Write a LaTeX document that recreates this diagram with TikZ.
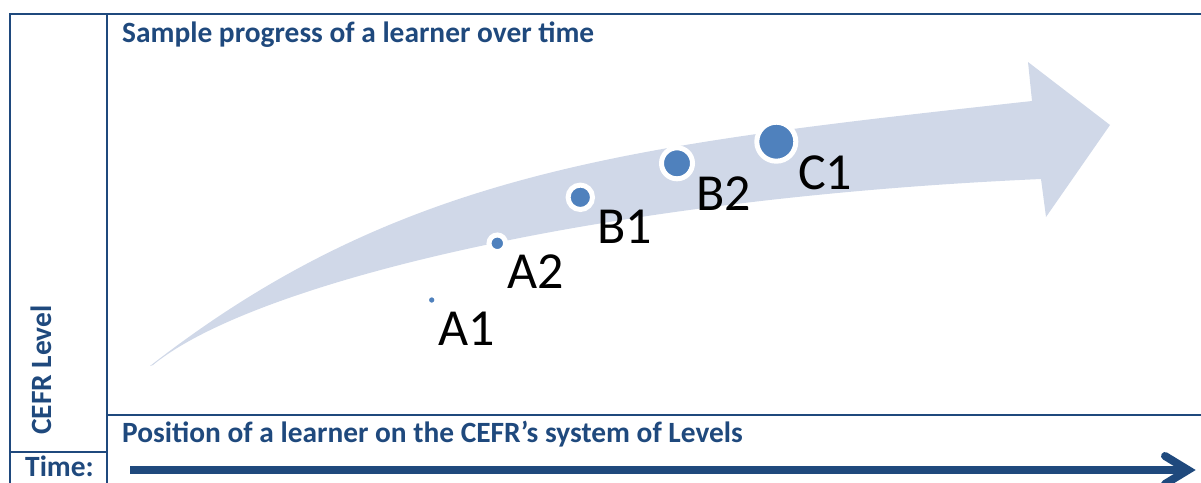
\documentclass[tikz,border=0pt]{standalone}
\usepackage{fontspec}
\setmainfont{Carlito}
\usetikzlibrary{calc}
\definecolor{dkblue}{HTML}{1F497D}
\definecolor{dotblue}{HTML}{4F81BD}
\definecolor{bandblue}{HTML}{D0D8E8}
\begin{document}
\begin{tikzpicture}[x=1pt,y=-1pt,
  gridline/.style={draw=dkblue,line width=2.2pt},
  heading/.style={anchor=base west,inner sep=0pt,text=dkblue,font=\fontsize{29.4}{34}\selectfont\bfseries},
  lvldot/.style={circle,fill=dotblue,draw=white,line width=5pt,inner sep=0pt,minimum size=#1},
  lvllabel/.style={anchor=base west,inner sep=0pt,text=black,font=\fontsize{52}{60}\selectfont},
  shaft/.style={draw=dkblue,line width=8pt,line cap=butt},
  chevron/.style={draw=dkblue,line width=8pt,line cap=round,line join=miter}]
\useasboundingbox (0,0) rectangle (1201,482);
\clip (0,0) rectangle (1201,482);
% table lines
\draw[gridline] (10,490) -- (10,14) -- (1210,14);
\draw[gridline] (106.7,14) -- (106.7,490);
\draw[gridline] (106.7,414.7) -- (1210,414.7);
\draw[gridline] (10,451.7) -- (106.7,451.7);
% curved light arrow
\fill[bandblue] (150,366) .. controls (402.8,169) and (634,145) .. (1032,101)
  -- (1028,62) -- (1110,125) -- (1046,217) -- (1041,179)
  .. controls (591.5,198.8) and (250,285) .. (153,365) -- cycle;
% headings
\node[heading] (title) at (122,42) {Sample progress of a learner over time};
\node[heading] (position) at (122,442) {Position of a learner on the CEFR’s system of Levels};
\node[heading] (time) at (25,476) {Time:};
\node[heading,rotate=90] (cefr) at (51.7,435) {CEFR Level};
% level dots
\node[lvldot=11pt] (a1) at (431.7,300) {};
\node[lvldot=16.6pt] (a2) at (497.3,243.3) {};
\node[lvldot=24.4pt] (b1) at (580.3,197.3) {};
\node[lvldot=31pt] (b2) at (677,163.3) {};
\node[lvldot=39pt] (c1) at (776.3,141.7) {};
% level labels
\node[lvllabel] (la1) at (438,345) {A1};
\node[lvllabel] (la2) at (507,288) {A2};
\node[lvllabel] (lb1) at (597,243) {B1};
\node[lvllabel] (lb2) at (696,210) {B2};
\node[lvllabel] (lc1) at (798,189) {C1};
% time arrow
\coordinate (tstart) at (130,470);
\coordinate (tend) at (1188,470);
\draw[shaft] (tstart) -- (tend);
\draw[chevron] ($(tend)+(-23,-14)$) -- (tend) -- ($(tend)+(-23,14)$);
\end{tikzpicture}
\end{document}
